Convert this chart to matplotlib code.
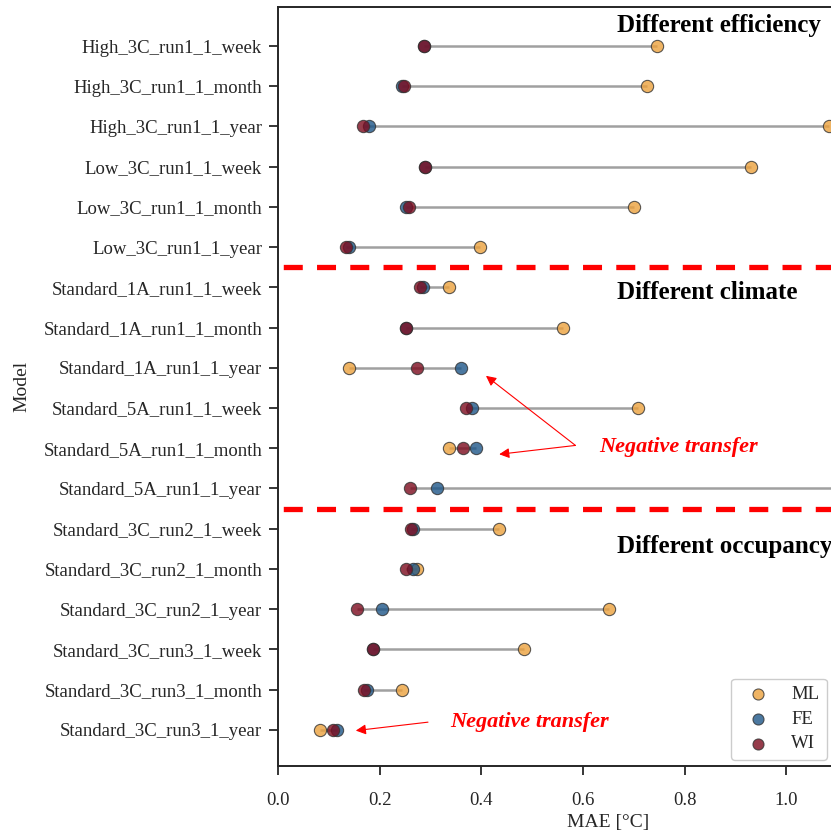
import numpy as np
import matplotlib.pyplot as plt

plt.rcParams["font.family"] = ["Liberation Serif", "DejaVu Serif"]
plt.rcParams["text.color"] = ".15"
plt.rcParams["axes.labelcolor"] = ".15"
plt.rcParams["xtick.color"] = ".15"
plt.rcParams["ytick.color"] = ".15"

models = [
    "High_3C_run1_1_week", "High_3C_run1_1_month", "High_3C_run1_1_year",
    "Low_3C_run1_1_week", "Low_3C_run1_1_month", "Low_3C_run1_1_year",
    "Standard_1A_run1_1_week", "Standard_1A_run1_1_month", "Standard_1A_run1_1_year",
    "Standard_5A_run1_1_week", "Standard_5A_run1_1_month", "Standard_5A_run1_1_year",
    "Standard_3C_run2_1_week", "Standard_3C_run2_1_month", "Standard_3C_run2_1_year",
    "Standard_3C_run3_1_week", "Standard_3C_run3_1_month", "Standard_3C_run3_1_year",
]

# MAE per model for each training strategy
mae_ml = [0.746, 0.725, 1.083, 0.930, 0.701, 0.398,
          0.336, 0.560, 0.140, 0.708, 0.336, 1.200,
          0.434, 0.273, 0.651, 0.484, 0.243, 0.082]
mae_fe = [0.288, 0.243, 0.179, 0.289, 0.252, 0.140,
          0.286, 0.251, 0.359, 0.381, 0.389, 0.313,
          0.266, 0.265, 0.204, 0.187, 0.176, 0.116]
mae_wi = [0.288, 0.248, 0.167, 0.289, 0.257, 0.134,
          0.279, 0.251, 0.274, 0.369, 0.364, 0.260,
          0.262, 0.252, 0.155, 0.187, 0.170, 0.109]

series = [("ML", mae_ml, "#eca13d"), ("FE", mae_fe, "#1e5688"), ("WI", mae_wi, "#7c0b1e")]

fig = plt.figure(figsize=(8.31, 8.33), dpi=100)
# axes run past the right edge of the figure on purpose
ax = fig.add_axes([278 / 831, 67 / 833, 661 / 831, 759 / 833])

y = np.arange(len(models))
lo = np.min([mae_ml, mae_fe, mae_wi], axis=0)
hi = np.max([mae_ml, mae_fe, mae_wi], axis=0)
ax.hlines(y, lo, hi, color="gray", alpha=0.75, lw=1.8, zorder=1)

for name, vals, col in series:
    ax.scatter(vals, y, s=78, color=col, alpha=0.8, edgecolor="0.2",
               linewidth=0.8, label=name, zorder=2)

# group separators
for yy in (5.5, 11.5):
    ax.axhline(yy, color="red", lw=3.8, linestyle=(5.3, (3.6, 2.7)), zorder=0)

ax.text(0.667, -0.52, "Different efficiency", fontsize=18, fontweight="bold",
        color="black", va="center")
ax.text(0.667, 6.14, "Different climate", fontsize=18, fontweight="bold",
        color="black", va="center")
ax.text(0.667, 12.45, "Different occupancy", fontsize=18, fontweight="bold",
        color="black", va="center")

arrow = dict(arrowstyle="-|>", color="red", lw=0.8, mutation_scale=15,
             shrinkA=0, shrinkB=0)
ax.annotate("", xy=(0.409, 8.20), xytext=(0.585, 9.93), arrowprops=arrow)
ax.annotate("", xy=(0.435, 10.15), xytext=(0.585, 9.93), arrowprops=arrow)
ax.text(0.631, 9.97, "Negative transfer", color="red", fontsize=16,
        fontweight="bold", fontstyle="italic", va="center")
ax.annotate("", xy=(0.153, 17.02), xytext=(0.295, 16.81), arrowprops=arrow)
ax.text(0.338, 16.8, "Negative transfer", color="red", fontsize=16,
        fontweight="bold", fontstyle="italic", va="center")

ax.set_yticks(y)
ax.set_yticklabels(models)
ax.set_ylim(17.9, -0.97)
ax.set_xlim(0, 1.3)
ax.set_xticks(np.arange(0, 1.01, 0.2))
ax.tick_params(labelsize=13.5, length=6.5, width=1.3)
ax.tick_params(axis="y", pad=5)
ax.tick_params(axis="x", pad=12)
for sp in ax.spines.values():
    sp.set_linewidth(1.4)
    sp.set_color(".15")
ax.set_xlabel("MAE [°C]", fontsize=14, labelpad=4)
ax.set_ylabel("Model", fontsize=14, labelpad=9)

ax.legend(loc="lower right", bbox_to_anchor=(827 / 831, 73 / 833),
          bbox_transform=fig.transFigure, borderaxespad=0, fontsize=13.5,
          labelspacing=0.4, markerscale=0.9, edgecolor="0.8", framealpha=1)

fig.savefig("out.png", dpi=100)
